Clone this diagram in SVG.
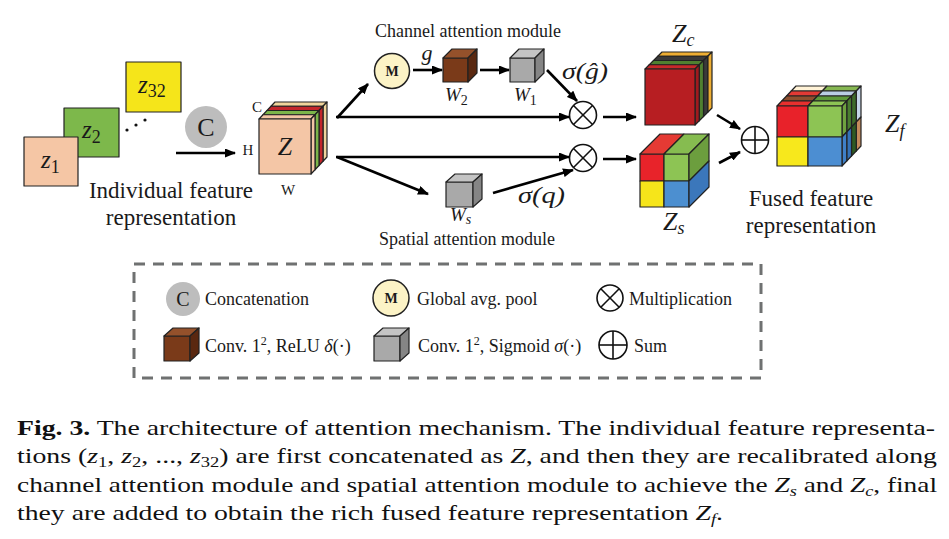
<svg xmlns="http://www.w3.org/2000/svg" width="949" height="539" viewBox="0 0 949 539">
<defs>
<style>
.t{font-family:"Liberation Serif","Times New Roman",serif;fill:#1a1a1a}
.m{font-family:"Liberation Serif","Times New Roman",serif;font-style:italic;fill:#1a1a1a}
.up{font-style:normal}
.e{stroke:#222;stroke-width:1.2;stroke-linejoin:round}
.a{stroke:#000;stroke-width:2.6;fill:none;marker-end:url(#ah)}
.op{fill:#fff;stroke:#111;stroke-width:1.6}
.opl{stroke:#111;stroke-width:1.6}
.cap{font-family:"Liberation Serif","Times New Roman",serif;font-size:21px;fill:#111}
</style>
<marker id="ah" markerUnits="userSpaceOnUse" markerWidth="11" markerHeight="9" refX="10" refY="4.5" orient="auto"><path d="M0,0 L11,4.5 L0,9 z" fill="#000"/></marker>
</defs>
<rect width="949" height="539" fill="#fff"/>

<!-- input feature maps -->
<g id="z2"><rect x="64" y="108" width="55" height="49" fill="#7DB84B" class="e"/><text class="m" x="82" y="138" font-size="25">z<tspan class="up" font-size="18" dy="5">2</tspan></text></g>
<g id="z1"><rect x="24" y="137" width="54" height="49" fill="#F5C6A5" class="e"/><text class="m" x="41" y="168" font-size="25">z<tspan class="up" font-size="18" dy="5">1</tspan></text></g>
<g id="z32"><rect x="126" y="62" width="55" height="50" fill="#F5E51A" class="e"/><text class="m" x="138" y="93" font-size="25">z<tspan class="up" font-size="18" dy="4">32</tspan></text></g>
<g id="dots" fill="#111"><circle cx="127" cy="130" r="1.6"/><circle cx="136" cy="125" r="1.6"/><circle cx="145" cy="120" r="1.6"/></g>
<g id="ind-label"><text class="t" x="171" y="198" font-size="23" text-anchor="middle">Individual feature</text><text class="t" x="171" y="225" font-size="23" text-anchor="middle">representation</text></g>

<!-- concat op -->
<g id="concat"><circle cx="206" cy="127" r="21" fill="#BDBDBD"/><text class="t" x="206" y="136" font-size="26" text-anchor="middle">C</text></g>

<!-- Z cube -->
<g id="Zcube">
<g transform="translate(12,-12.75)" fill="#F0D49C" class="e"><polygon points="259,119 263,114.75 315,114.75 311,119"/><polygon points="311,119 315,114.75 315,169.75 311,174"/></g>
<g transform="translate(8,-8.5)" fill="#C4262B" class="e"><polygon points="259,119 263,114.75 315,114.75 311,119"/><polygon points="311,119 315,114.75 315,169.75 311,174"/></g>
<g transform="translate(4,-4.25)" fill="#7BB54A" class="e"><polygon points="259,119 263,114.75 315,114.75 311,119"/><polygon points="311,119 315,114.75 315,169.75 311,174"/></g>
<g fill="#F4C6A6" class="e"><polygon points="259,119 263,114.75 315,114.75 311,119"/><polygon points="311,119 315,114.75 315,169.75 311,174"/><rect x="259" y="119" width="52" height="55"/></g>
<text class="m" x="285" y="155" font-size="26" text-anchor="middle">Z</text>
<text class="t" x="257" y="112" font-size="15" text-anchor="middle">C</text>
<text class="t" x="248" y="155" font-size="15" text-anchor="middle">H</text>
<text class="t" x="288" y="195" font-size="15" text-anchor="middle">W</text>
</g>

<!-- channel attention -->
<text id="cam-label" class="t" x="468" y="37" font-size="18" text-anchor="middle">Channel attention module</text>
<g id="Mop"><circle cx="392" cy="71" r="17.5" fill="#FCF3C6" stroke="#222" stroke-width="1.5"/><text class="t" x="392" y="76" font-size="14" font-weight="bold" text-anchor="middle">M</text></g>
<text id="g-label" class="m" x="427" y="60" font-size="22" text-anchor="middle">g</text>
<g id="W2" class="e">
<rect x="443" y="58" width="25" height="24" fill="#7A3A19"/>
<polygon points="443,58 452,49 477,49 468,58" fill="#94512B"/>
<polygon points="468,58 477,49 477,73 468,82" fill="#5A2810"/>
</g>
<text class="m" x="445" y="101" font-size="19">W<tspan class="up" font-size="14" dy="4">2</tspan></text>
<g id="W1" class="e">
<rect x="510" y="58" width="25" height="24" fill="#A9A9A9"/>
<polygon points="510,58 519,49 544,49 535,58" fill="#C4C4C4"/>
<polygon points="535,58 544,49 544,73 535,82" fill="#858585"/>
</g>
<text class="m" x="514" y="101" font-size="19">W<tspan class="up" font-size="14" dy="4">1</tspan></text>
<text id="sg-label" class="m" x="562" y="79" font-size="23" textLength="46" lengthAdjust="spacingAndGlyphs">σ(ĝ)</text>

<g id="mult-top"><circle cx="583" cy="115" r="13.5" class="op"/><line x1="573.5" y1="105.5" x2="592.5" y2="124.5" class="opl"/><line x1="592.5" y1="105.5" x2="573.5" y2="124.5" class="opl"/></g>
<g id="mult-bot"><circle cx="583" cy="158" r="13.5" class="op"/><line x1="573.5" y1="148.5" x2="592.5" y2="167.5" class="opl"/><line x1="592.5" y1="148.5" x2="573.5" y2="167.5" class="opl"/></g>

<!-- spatial attention -->
<g id="Ws" class="e">
<rect x="446" y="182" width="27" height="25" fill="#A9A9A9"/>
<polygon points="446,182 455,174 482,174 473,182" fill="#C4C4C4"/>
<polygon points="473,182 482,174 482,199 473,207" fill="#858585"/>
</g>
<text class="m" x="450" y="221" font-size="19">W<tspan font-size="14" dy="3">s</tspan></text>
<text id="sg2-label" class="m" x="518" y="203" font-size="23" textLength="47" lengthAdjust="spacingAndGlyphs">σ(q)</text>
<text id="sam-label" class="t" x="467" y="245" font-size="18" text-anchor="middle">Spatial attention module</text>

<!-- Zc cube -->
<g id="Zc">
<g transform="translate(12.75,-12.75)" fill="#EEAE33" class="e"><polygon points="645,69 649.25,64.75 699.25,64.75 695,69"/><polygon points="695,69 699.25,64.75 699.25,120.75 695,125"/></g>
<g transform="translate(8.5,-8.5)" fill="#3A3A3A" class="e"><polygon points="645,69 649.25,64.75 699.25,64.75 695,69"/><polygon points="695,69 699.25,64.75 699.25,120.75 695,125"/></g>
<g transform="translate(4.25,-4.25)" fill="#4F8030" class="e"><polygon points="645,69 649.25,64.75 699.25,64.75 695,69"/><polygon points="695,69 699.25,64.75 699.25,120.75 695,125"/></g>
<g class="e"><polygon points="645,69 649.25,64.75 699.25,64.75 695,69" fill="#C8282A"/><polygon points="695,69 699.25,64.75 699.25,120.75 695,125" fill="#A01A1E"/><rect x="645" y="69" width="50" height="56" fill="#B71E22"/></g>
<text class="m" x="672" y="42" font-size="26">Z<tspan font-size="18" dy="4">c</tspan></text>
</g>

<!-- Zs cube -->
<g id="Zs">
<g class="e">
<rect x="640" y="154" width="24" height="27" fill="#E8232A"/>
<rect x="664" y="154" width="25" height="27" fill="#8DC454"/>
<rect x="640" y="181" width="24" height="26" fill="#F6E51A"/>
<rect x="664" y="181" width="25" height="26" fill="#4C8FD0"/>
<polygon points="640,154 660,134 684,134 664,154" fill="#E53A34"/>
<polygon points="664,154 684,134 709,134 689,154" fill="#86BC50"/>
<polygon points="689,154 709,134 709,161 689,181" fill="#6C9E3E"/>
<polygon points="689,181 709,161 709,187 689,207" fill="#3B77BB"/>
</g>
<text class="m" x="663" y="230" font-size="26">Z<tspan font-size="18" dy="4">s</tspan></text>
</g>

<!-- sum op -->
<g id="sum"><circle cx="755" cy="140" r="13.5" class="op"/><line x1="741.5" y1="140" x2="768.5" y2="140" class="opl"/><line x1="755" y1="126.5" x2="755" y2="153.5" class="opl"/></g>

<!-- Zf cube -->
<g id="Zf">
<g transform="translate(14.25,-15)" class="e">
<polygon points="777,106 781.75,101 812.75,101 808,106" fill="#FFF2D6"/>
<polygon points="808,106 812.75,101 846.75,101 842,106" fill="#86B752"/>
<polygon points="842,106 846.75,101 846.75,132 842,137" fill="#C5D5E8"/>
<polygon points="842,137 846.75,132 846.75,161 842,166" fill="#C48A5C"/>
</g>
<g transform="translate(9.5,-10)" class="e">
<polygon points="777,106 781.75,101 812.75,101 808,106" fill="#E23A35"/>
<polygon points="808,106 812.75,101 846.75,101 842,106" fill="#B9CDE4"/>
<polygon points="842,106 846.75,101 846.75,132 842,137" fill="#3D6B2A"/>
<polygon points="842,137 846.75,132 846.75,161 842,166" fill="#2F5A22"/>
</g>
<g transform="translate(4.75,-5)" class="e">
<polygon points="777,106 781.75,101 812.75,101 808,106" fill="#8E4F2E"/>
<polygon points="808,106 812.75,101 846.75,101 842,106" fill="#5E9A3A"/>
<polygon points="842,106 846.75,101 846.75,132 842,137" fill="#4A7D30"/>
<polygon points="842,137 846.75,132 846.75,161 842,166" fill="#3572B8"/>
</g>
<g class="e">
<polygon points="777,106 781.75,101 812.75,101 808,106" fill="#E8302E"/>
<polygon points="808,106 812.75,101 846.75,101 842,106" fill="#8DC454"/>
<polygon points="842,106 846.75,101 846.75,132 842,137" fill="#6FA23F"/>
<polygon points="842,137 846.75,132 846.75,161 842,166" fill="#3F80C8"/>
<rect x="777" y="106" width="31" height="31" fill="#E8222A"/>
<rect x="808" y="106" width="34" height="31" fill="#8DC454"/>
<rect x="777" y="137" width="31" height="29" fill="#F7E81C"/>
<rect x="808" y="137" width="34" height="29" fill="#4C8ED2"/>
</g>
<text class="m" x="885" y="132" font-size="26">Z<tspan font-size="18" dy="5">f</tspan></text>
</g>
<g id="fused-label"><text class="t" x="811" y="206" font-size="23" text-anchor="middle">Fused feature</text><text class="t" x="811" y="233" font-size="23" text-anchor="middle">representation</text></g>

<!-- connectors -->
<g id="connectors">
<line class="a" x1="176" y1="153" x2="235" y2="153"/>
<line class="a" x1="337" y1="118" x2="368" y2="84"/>
<line class="a" x1="336" y1="117" x2="569" y2="117"/>
<line class="a" x1="413" y1="70" x2="442" y2="70"/>
<line class="a" x1="480" y1="70" x2="509" y2="70"/>
<line class="a" x1="547" y1="70" x2="577" y2="101"/>
<line class="a" x1="603" y1="117" x2="636" y2="117"/>
<line class="a" x1="336" y1="157" x2="569" y2="157"/>
<line class="a" x1="337" y1="157" x2="428" y2="194"/>
<line class="a" x1="493" y1="193" x2="573" y2="170"/>
<line class="a" x1="603" y1="159" x2="636" y2="159"/>
<line class="a" x1="717" y1="115" x2="740" y2="129"/>
<line class="a" x1="719" y1="163" x2="740" y2="152"/>
</g>

<!-- legend -->
<g id="legend">
<rect x="134" y="264" width="627" height="114" fill="none" stroke="#6F7171" stroke-width="3" stroke-dasharray="11 8"/>
<g id="leg-concat"><circle cx="183" cy="299" r="17" fill="#BDBDBD"/><text class="t" x="183" y="306" font-size="20" text-anchor="middle">C</text><text class="t" x="205" y="305" font-size="18">Concatenation</text></g>
<g id="leg-pool"><circle cx="391" cy="298" r="18" fill="#FCF3C6" stroke="#222" stroke-width="1.5"/><text class="t" x="391" y="303" font-size="14" font-weight="bold" text-anchor="middle">M</text><text class="t" x="417" y="305" font-size="18">Global avg. pool</text></g>
<g id="leg-mult"><circle cx="610" cy="298" r="13" class="op"/><line x1="600.8" y1="288.8" x2="619.2" y2="307.2" class="opl"/><line x1="619.2" y1="288.8" x2="600.8" y2="307.2" class="opl"/><text class="t" x="629" y="305" font-size="18">Multiplication</text></g>
<g id="leg-relu">
<g class="e"><rect x="164" y="336" width="26" height="25" fill="#7A3A19"/><polygon points="164,336 173,328 199,328 190,336" fill="#94512B"/><polygon points="190,336 199,328 199,353 190,361" fill="#5A2810"/></g>
<text class="t" x="205" y="352" font-size="18">Conv. 1<tspan font-size="12" dy="-7">2</tspan><tspan dy="7">, ReLU </tspan><tspan font-style="italic">δ</tspan>(·)</text>
</g>
<g id="leg-sig">
<g class="e"><rect x="374" y="336" width="26" height="25" fill="#A9A9A9"/><polygon points="374,336 383,328 409,328 400,336" fill="#C4C4C4"/><polygon points="400,336 409,328 409,353 400,361" fill="#858585"/></g>
<text class="t" x="418" y="352" font-size="18">Conv. 1<tspan font-size="12" dy="-7">2</tspan><tspan dy="7">, Sigmoid </tspan><tspan font-style="italic">σ</tspan>(·)</text>
</g>
<g id="leg-sum"><circle cx="613" cy="345" r="14" class="op"/><line x1="599" y1="345" x2="627" y2="345" class="opl"/><line x1="613" y1="331" x2="613" y2="359" class="opl"/><text class="t" x="634" y="352" font-size="18">Sum</text></g>
</g>

<!-- caption -->
<g id="caption">
<text class="cap" x="17" y="435" textLength="918" lengthAdjust="spacingAndGlyphs"><tspan font-weight="bold">Fig. 3.</tspan> The architecture of attention mechanism. The individual feature representa-</text>
<text class="cap" x="17" y="463" textLength="920" lengthAdjust="spacingAndGlyphs">tions (<tspan font-style="italic">z</tspan><tspan font-size="14" dy="4">1</tspan><tspan dy="-4">, </tspan><tspan font-style="italic">z</tspan><tspan font-size="14" dy="4">2</tspan><tspan dy="-4">, ..., </tspan><tspan font-style="italic">z</tspan><tspan font-size="14" dy="4">32</tspan><tspan dy="-4">) are first concatenated as </tspan><tspan font-style="italic">Z</tspan>, and then they are recalibrated along</text>
<text class="cap" x="17" y="492" textLength="920" lengthAdjust="spacingAndGlyphs">channel attention module and spatial attention module to achieve the <tspan font-style="italic">Z</tspan><tspan font-style="italic" font-size="14" dy="4">s</tspan><tspan dy="-4"> and </tspan><tspan font-style="italic">Z</tspan><tspan font-style="italic" font-size="14" dy="4">c</tspan><tspan dy="-4">, final</tspan></text>
<text class="cap" x="17" y="520" textLength="706" lengthAdjust="spacingAndGlyphs">they are added to obtain the rich fused feature representation <tspan font-style="italic">Z</tspan><tspan font-style="italic" font-size="14" dy="4">f</tspan><tspan dy="-4">.</tspan></text>
</g>
</svg>
